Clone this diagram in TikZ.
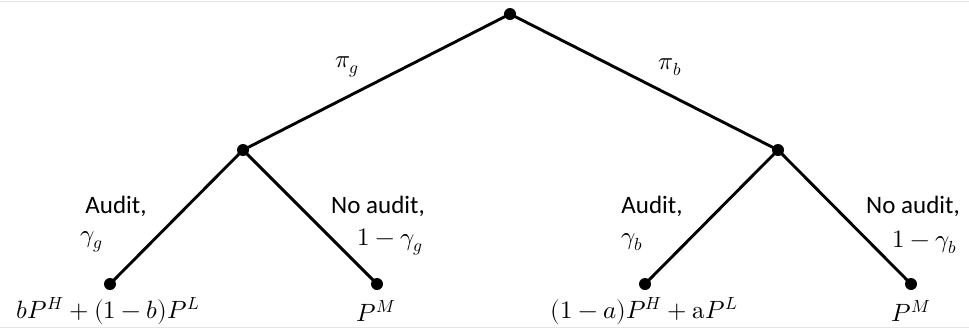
\documentclass[tikz,border=0pt]{standalone}
\usepackage{fontspec}
\usepackage{unicode-math}
\setmainfont{Carlito}
\setmathfont{Latin Modern Math}
\begin{document}
\begin{tikzpicture}[x=1pt,y=-1pt,
  vtx/.style={circle,fill=black,inner sep=0pt,minimum size=12pt},
  edge/.style={line width=2.9pt},
  lbl/.style={inner sep=0pt,font=\fontsize{25}{29}\selectfont},
  mlbl/.style={inner sep=0pt,font=\fontsize{25}{29}\selectfont}]
\useasboundingbox (0,0) rectangle (969,333);
\draw[black!10,line width=1pt] (0,1) -- (969,1);
\draw[black!10,line width=1pt] (0,327) -- (969,327);
\node[vtx] (root) at (510,14) {};
\node[vtx] (gm) at (243,150) {};
\node[vtx] (bm) at (778,150) {};
\node[vtx] (ll) at (110,284) {};
\node[vtx] (lr) at (377,284) {};
\node[vtx] (rl) at (645,284) {};
\node[vtx] (rr) at (911,284) {};
\draw[edge] (root.center) -- (gm.center);
\draw[edge] (root.center) -- (bm.center);
\draw[edge] (gm.center) -- (ll.center);
\draw[edge] (gm.center) -- (lr.center);
\draw[edge] (bm.center) -- (rl.center);
\draw[edge] (bm.center) -- (rr.center);
\node[mlbl] (pig) at (347,67) {$\pi_g$};
\node[mlbl] (pib) at (670,67) {$\pi_b$};
\node[lbl] (a1) at (116,206) {Audit,};
\node[mlbl] (g1) at (92,242) {$\gamma_g$};
\node[lbl] (n1) at (378,206) {No audit,};
\node[mlbl] (g2) at (390,242) {$1-\gamma_g$};
\node[lbl] (a2) at (652,206) {Audit,};
\node[mlbl] (g3) at (632,242) {$\gamma_b$};
\node[lbl] (n2) at (913,206) {No audit,};
\node[mlbl] (g4) at (925,242) {$1-\gamma_b$};
\node[mlbl] (v1) at (108,311) {$bP^H+(1-b)P^L$};
\node[mlbl] (v2) at (376,311) {$P^M$};
\node[mlbl] (v3) at (644,311) {$(1-a)P^H+\symup{a}P^L$};
\node[mlbl] (v4) at (911,311) {$P^M$};
\end{tikzpicture}
\end{document}
